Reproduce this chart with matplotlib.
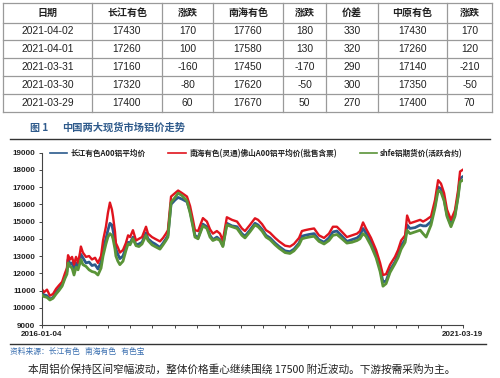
import numpy as np
import pandas as pd
import matplotlib
matplotlib.use("Agg")
import matplotlib.pyplot as plt
import matplotlib.dates as mdates

plt.rcParams['font.family'] = ['Noto Sans CJK SC', 'DejaVu Sans']

# ---- table data ----
tbl_header = ["日期", "长江有色", "涨跌", "南海有色", "涨跌", "价差", "中原有色", "涨跌"]
tbl_dates = ["2021-04-02", "2021-04-01", "2021-03-31", "2021-03-30", "2021-03-29"]
cj_price = [17430, 17260, 17160, 17320, 17400]
cj_chg = [170, 100, -160, -80, 60]
nh_price = [17760, 17580, 17450, 17620, 17670]
nh_chg = [180, 130, -170, -50, 50]
spread = [330, 320, 290, 300, 270]
zy_price = [17430, 17260, 17140, 17350, 17400]
zy_chg = [170, 120, -210, -50, 70]

# ---- chart data ----
dates = ["2016-01-04", "2016-01-14", "2016-01-28", "2016-02-10", "2016-02-24", "2016-03-09",
         "2016-03-22", "2016-04-05", "2016-04-18", "2016-04-27", "2016-05-02", "2016-05-11",
         "2016-05-20", "2016-05-29", "2016-06-07", "2016-06-16", "2016-06-25", "2016-06-29",
         "2016-07-08", "2016-07-22", "2016-08-05", "2016-08-18", "2016-09-01", "2016-09-14",
         "2016-09-28", "2016-10-07", "2016-10-20", "2016-10-29", "2016-11-07", "2016-11-16",
         "2016-11-21", "2016-11-30", "2016-12-04", "2016-12-13", "2016-12-22", "2017-01-05",
         "2017-01-18", "2017-01-28", "2017-02-06", "2017-02-19", "2017-03-05", "2017-03-18",
         "2017-04-01", "2017-04-19", "2017-04-28", "2017-05-16", "2017-05-30", "2017-06-21",
         "2017-07-05", "2017-07-18", "2017-07-27", "2017-08-10", "2017-08-28", "2017-09-11",
         "2017-09-29", "2017-10-21", "2017-11-04", "2017-11-17", "2017-11-26", "2017-12-10",
         "2018-01-01", "2018-01-19", "2018-02-02", "2018-02-15", "2018-03-05", "2018-03-19",
         "2018-04-01", "2018-04-19", "2018-05-12", "2018-06-04", "2018-06-26", "2018-07-10",
         "2018-08-01", "2018-08-24", "2018-09-07", "2018-09-25", "2018-10-13", "2018-10-31",
         "2018-11-23", "2018-12-11", "2019-01-07", "2019-01-29", "2019-02-16", "2019-03-11",
         "2019-03-24", "2019-04-07", "2019-04-25", "2019-05-18", "2019-06-09", "2019-07-02",
         "2019-07-24", "2019-08-11", "2019-08-29", "2019-09-21", "2019-10-13", "2019-11-05",
         "2019-11-28", "2019-12-11", "2019-12-25", "2020-01-07", "2020-01-30", "2020-02-22",
         "2020-03-11", "2020-03-24", "2020-04-07", "2020-04-25", "2020-05-17", "2020-05-31",
         "2020-06-14", "2020-07-02", "2020-07-11", "2020-07-24", "2020-08-16", "2020-09-08",
         "2020-09-21", "2020-10-05", "2020-10-27", "2020-11-14", "2020-11-28", "2020-12-11",
         "2020-12-25", "2021-01-07", "2021-01-25", "2021-02-12", "2021-02-26", "2021-03-07",
         "2021-03-19"]

changjiang = [10850, 10750, 10700, 10500, 10600, 10900, 11100, 11350, 11800, 12100, 12800, 12550,
              12600, 12150, 12600, 12350, 12850, 13100, 12900, 12600, 12650, 12450, 12500, 12250,
              12650, 13400, 14000, 14500, 14900, 14800, 14500, 13900, 13400, 13100, 12850, 13000,
              13500, 13800, 13750, 14100, 13650, 13700, 13800, 14350, 14000, 13800, 13700, 13500,
              13750, 14000, 14200, 16000, 16250, 16400, 16300, 16150, 15600, 14800, 14200, 14050,
              14850, 14700, 14200, 13950, 14100, 13950, 13600, 14900, 14750, 14700, 14300, 14150,
              14500, 14900, 14800, 14550, 14200, 14050, 13750, 13550, 13300, 13250, 13400, 13750,
              14150, 14200, 14250, 14300, 13950, 13800, 14050, 14400, 14450, 14150, 13850, 13950,
              14050, 14200, 14600, 14350, 13800, 13100, 12300, 11500, 11550, 12200, 12650, 13050,
              13600, 13950, 14800, 14600, 14650, 14800, 14750, 14750, 15000, 15950, 17000, 16900,
              16300, 15400, 14800, 15400, 16500, 17500, 17600]

nanhai = [11100, 10900, 11050, 10700, 10800, 11100, 11300, 11500, 12000, 12300, 13050, 12800,
          12950, 12500, 12950, 12600, 13200, 13550, 13200, 12950, 13000, 12800, 12900, 12600,
          13000, 13900, 14700, 15500, 16100, 15700, 15300, 14400, 13750, 13500, 13200, 13350,
          13750, 14200, 14100, 14500, 13900, 14000, 14100, 14700, 14300, 14100, 14000, 13850,
          14050, 14300, 14500, 16450, 16650, 16800, 16650, 16450, 15900, 15100, 14500, 14450,
          15200, 15000, 14550, 14300, 14450, 14300, 13900, 15250, 15100, 15000, 14600, 14450,
          14800, 15190, 15100, 14850, 14500, 14350, 14050, 13850, 13600, 13550, 13700, 14050,
          14450, 14500, 14550, 14600, 14200, 14050, 14300, 14700, 14700, 14400, 14100, 14200,
          14300, 14450, 14950, 14600, 14050, 13350, 12600, 11900, 11950, 12500, 12950, 13350,
          13900, 14200, 15350, 14900, 15000, 15100, 15000, 15100, 15300, 16250, 17400, 17200,
          16650, 15700, 15100, 15650, 16800, 17900, 18000]

shfe = [10750, 10650, 10600, 10450, 10550, 10800, 11000, 11250, 11700, 11950, 12600, 12400,
        12300, 11900, 12350, 12200, 12600, 12800, 12500, 12400, 12200, 12100, 12050, 11900,
        12300, 13000, 13700, 14100, 14300, 14200, 14000, 13400, 13000, 12700, 12500, 12700,
        13300, 13700, 13650, 14000, 13600, 13550, 13700, 14200, 13900, 13650, 13550, 13400,
        13650, 13900, 14100, 16100, 16400, 16650, 16500, 16200, 15500, 14700, 14100, 14000,
        14750, 14600, 14100, 13900, 14000, 13900, 13550, 14800, 14700, 14600, 14200, 14050,
        14400, 14800, 14700, 14450, 14100, 13950, 13650, 13450, 13200, 13150, 13300, 13650,
        14000, 14050, 14100, 14150, 13850, 13700, 13900, 14200, 14250, 14000, 13750, 13800,
        13900, 14000, 14300, 14150, 13600, 12900, 12100, 11250, 11400, 12050, 12550, 12900,
        13400, 13800, 14500, 14300, 14400, 14500, 14300, 14100, 14800, 15800, 16800, 16700,
        16200, 15300, 14700, 15300, 16400, 17300, 17400]

series_names = ["长江有色A00铝平均价", "南海有色(灵通)佛山A00铝平均价(批售含票)", "shfe铝期货价(活跃合约)"]
series_colors = ["#2b5a8c", "#e0141e", "#5a9438"]

source_text = "资料来源：长江有色   南海有色   有色宝"
caption = "本周铝价保持区间窄幅波动，整体价格重心继续围绕 17500 附近波动。下游按需采购为主。"

W, H = 500, 378
fig = plt.figure(figsize=(W / 100, H / 100), dpi=100)

# overlay axes in pixel coords for table and texts
ov = fig.add_axes([0, 0, 1, 1])
ov.set_xlim(0, W)
ov.set_ylim(H, 0)
ov.axis("off")

col_edges = [3, 92, 162, 213, 283, 326, 378, 447, 492]
row_edges = [3, 23, 40, 58, 76, 94, 112]
lc = "#9a9a9a"
for xe in col_edges:
    ov.plot([xe, xe], [row_edges[0], row_edges[-1]], color=lc, lw=0.9)
for ye in row_edges:
    ov.plot([col_edges[0], col_edges[-1]], [ye, ye], color=lc, lw=0.9)

num = ["Liberation Sans", "Noto Sans CJK SC"]
centers = [(col_edges[i] + col_edges[i + 1]) / 2 for i in range(len(col_edges) - 1)]
for i, h in enumerate(tbl_header):
    ov.text(centers[i], (row_edges[0] + row_edges[1]) / 2, h, ha="center", va="center",
            fontsize=7.2, fontweight="bold", color="#222222")
cols = [tbl_dates, cj_price, cj_chg, nh_price, nh_chg, spread, zy_price, zy_chg]
for r in range(len(tbl_dates)):
    yc = (row_edges[r + 1] + row_edges[r + 2]) / 2
    for c, col in enumerate(cols):
        ov.text(centers[c], yc, str(col[r]), ha="center", va="center", fontsize=7.4,
                family=num, color="#222222")

# figure title
ov.text(30, 128, "图 1", ha="left", va="center", fontsize=7.2, color="#2f5b8c", fontweight="bold")
ov.text(62, 128, "中国两大现货市场铝价走势", ha="left", va="center", fontsize=7.4,
        color="#2f5b8c", fontweight="bold")
ov.plot([10, 490], [139, 139], color="#333333", lw=1.0)
ov.plot([10, 486], [344, 344], color="#333333", lw=1.0)
ov.text(10, 352, source_text, ha="left", va="center", fontsize=5.6, color="#3a6fb0")
ov.text(28, 369, caption, ha="left", va="center", fontsize=7.7, color="#222222")

# chart
ax = fig.add_axes([41.7 / W, 1 - 325 / H, 421 / W, (325 - 152.6) / H])
d = pd.to_datetime(dates)
l_cj, = ax.plot(d, changjiang, color=series_colors[0], lw=2.0, zorder=2)
l_sh, = ax.plot(d, shfe, color=series_colors[2], lw=2.0, zorder=3)
l_nh, = ax.plot(d, nanhai, color=series_colors[1], lw=1.7, zorder=2.5)

x0 = mdates.date2num(pd.Timestamp("2016-01-04"))
x1 = mdates.date2num(pd.Timestamp("2021-03-19"))
ax.set_xlim(x0, x1)
ax.set_ylim(9000, 19000)
ax.set_yticks(np.arange(9000, 19001, 1000))
xt = np.linspace(x0, x1, 20)
ax.set_xticks(xt)
ax.set_xticklabels(["2016-01-04"] + [""] * 18 + ["2021-03-19"])
for s in ["top", "right"]:
    ax.spines[s].set_visible(False)
for s in ["left", "bottom"]:
    ax.spines[s].set_color("#444444")
    ax.spines[s].set_linewidth(0.8)
ax.tick_params(axis="both", length=2.5, width=0.7, color="#444444", labelsize=5.8, pad=2)
for lab in ax.get_xticklabels() + ax.get_yticklabels():
    lab.set_family(num)
    lab.set_fontweight("bold")
    lab.set_color("#222222")

leg = ax.legend([l_cj, l_nh, l_sh], series_names, loc="upper left", bbox_to_anchor=(0.012, 1.04),
                ncol=3, frameon=False, fontsize=5.5, handlelength=2.3, handletextpad=0.4,
                columnspacing=3.0, borderaxespad=0)
for t in leg.get_texts():
    t.set_fontweight("bold")
    t.set_color("#222222")
for lh in leg.get_lines():
    lh.set_linewidth(1.2)

fig.savefig("out.png", dpi=100)
